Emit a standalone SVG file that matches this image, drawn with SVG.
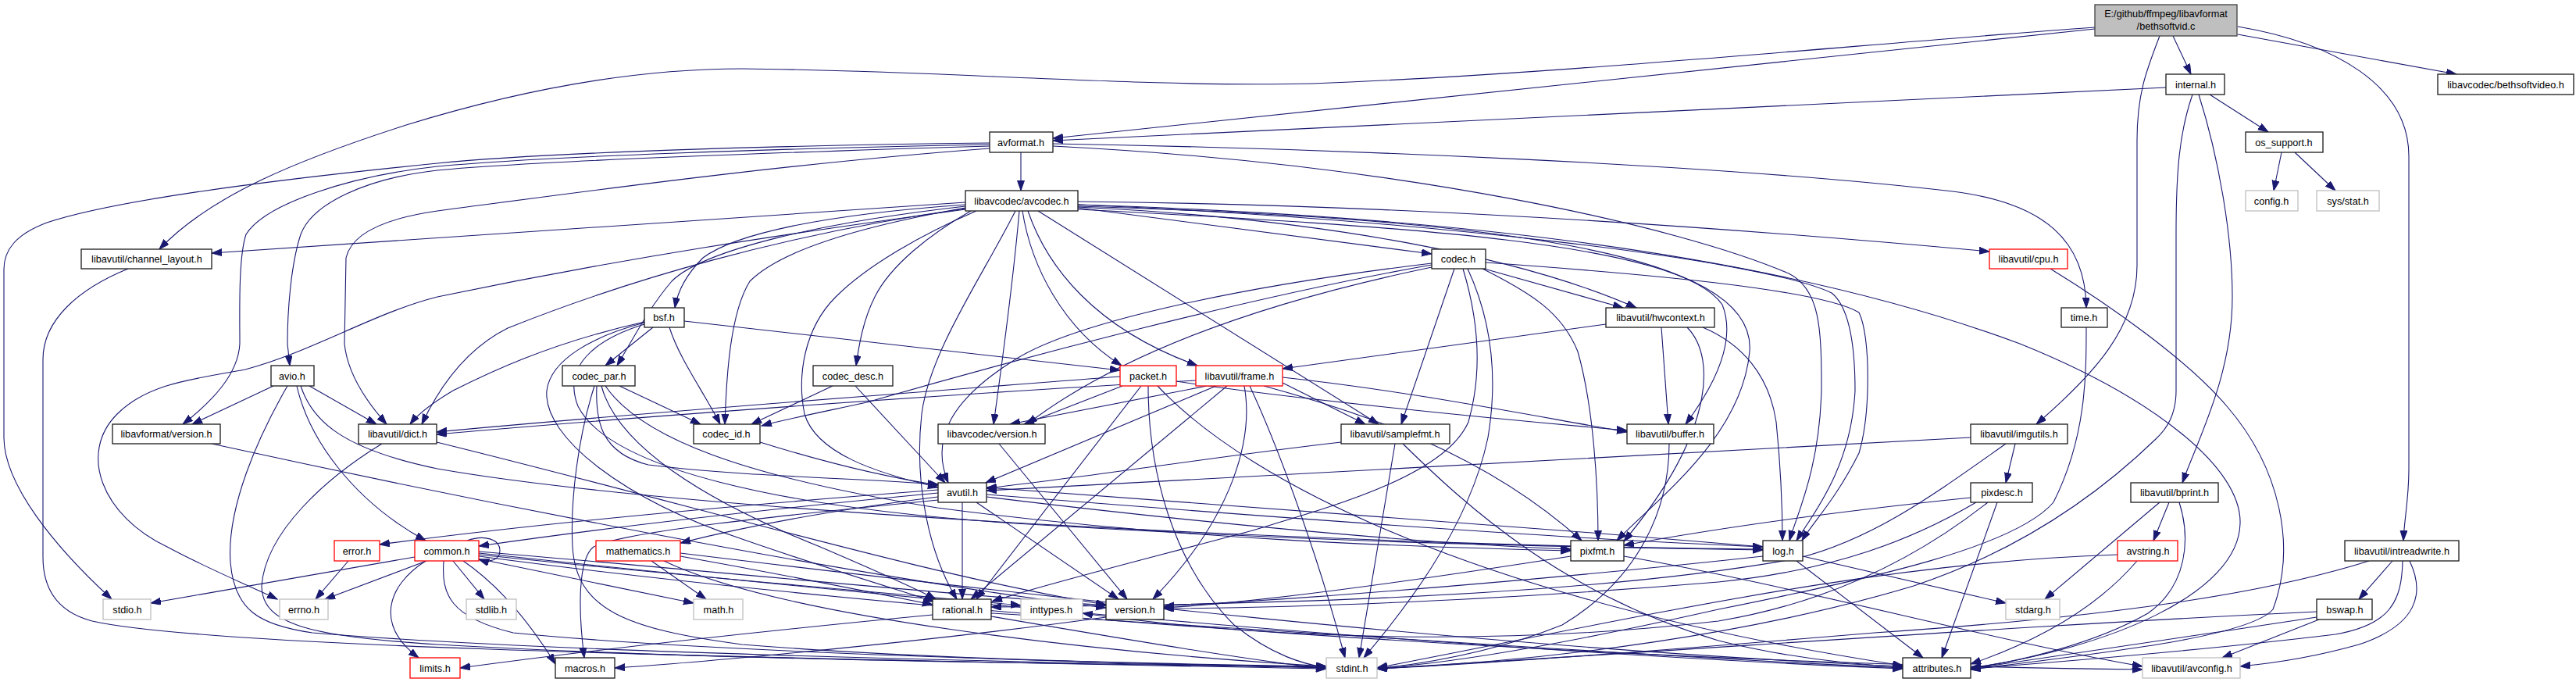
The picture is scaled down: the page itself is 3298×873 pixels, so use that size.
<svg xmlns="http://www.w3.org/2000/svg" width="3298" height="873" viewBox="0 0 3298 873">
<defs>
<marker id="a" markerWidth="14" markerHeight="10" refX="13" refY="4.5" orient="auto" markerUnits="userSpaceOnUse"><path d="M0,0 L13,4.5 L0,9 z" fill="#191970" stroke="#191970" stroke-width="1"/></marker>
</defs>
<style>
.e path{fill:none;stroke:#191970;stroke-width:1.1;marker-end:url(#a)}
rect{fill:#fff;stroke:#1a1a1a;stroke-width:1.3}
.r rect{stroke:#ff0000}
.u rect{stroke:#bfbfbf}
.rt rect{fill:#bfbfbf;stroke:#404040}
text{font-family:"Liberation Sans",Arial,sans-serif;font-size:12.7px;text-anchor:middle;fill:#000}
</style>
<rect x="0" y="0" width="3298" height="873" style="fill:#fff;stroke:none"/>
<g class="e" id="edges">
<path d="M2782,46 L2805,95"/>
<path d="M2865,44 L3145,95"/>
<path d="M2865,34 C2990,55 3084,110 3084,200 L3084,600 C3084,640 3078,665 3077,692"/>
<path d="M2765,46 C2748,90 2736,120 2736,180 L2736,340 C2736,420 2680,480 2607,543"/>
<path d="M2682,35 C2400,55 2000,95 1680,107 C1450,112 1200,90 950,88 C800,88 650,120 520,160 C380,205 270,250 204,319"/>
<path d="M2682,37 L1348,177"/>
<path d="M2773,112 L1348,180"/>
<path d="M2829,121 L2904,169"/>
<path d="M2815,121 C2840,200 2858,300 2858,380 C2858,480 2815,560 2794,618"/>
<path d="M2807,121 C2790,170 2786,220 2786,300 L2786,500 C2786,530 2775,548 2760,562 C2700,620 2600,700 2450,750 C2250,810 2000,845 1763,856"/>
<path d="M2921,195 L2911,244"/>
<path d="M2938,195 L2990,244"/>
<path d="M1307,195 L1307,244"/>
<path d="M1267,183 C1000,186 700,195 560,209 C350,230 150,255 60,285 C20,300 5,320 5,345 L5,560 C5,620 70,700 143,767"/>
<path d="M1267,185 C1000,190 700,200 560,213 C450,225 340,260 315,300 C305,330 307,400 307,440 C305,480 270,515 234,543"/>
<path d="M1267,187 C1000,195 700,205 560,218 C470,228 400,260 385,300 C372,340 368,400 368,440 L371,468"/>
<path d="M1267,190 C1000,210 750,245 560,270 C490,280 450,300 443,330 L441,440 C445,480 470,515 495,543"/>
<path d="M1348,184 C1700,190 2200,210 2500,245 C2620,260 2670,310 2671,394"/>
<path d="M1348,187 C1800,210 2150,290 2290,350 C2330,370 2332,420 2332,497 C2330,600 2300,660 2291,692"/>
<path d="M1380,262 C1800,280 2250,330 2345,375 C2370,395 2375,450 2375,500 C2370,600 2320,660 2300,692"/>
<path d="M1902,336 C2100,350 2330,370 2380,400 C2395,430 2395,530 2380,580 C2350,640 2320,670 2307,692"/>
<path d="M2180,419 C2230,440 2265,480 2274,540 C2280,600 2282,650 2282,692"/>
<path d="M1236,268 C1000,300 800,330 560,380 C480,400 400,450 314,473 C250,485 190,490 150,530 C100,580 130,660 214,700 C270,730 320,750 355,767"/>
<path d="M1329,270 L1765,543"/>
<path d="M1380,262 C1800,275 2250,315 2586,440 C2760,510 2870,600 2868,670 C2866,760 2700,830 2523,855"/>
<path d="M1250,270 C1180,300 1110,340 1070,380 C1030,420 1020,480 1030,530 C1045,580 1120,605 1201,624"/>
<path d="M1243,270 C1190,300 1140,340 1120,380 C1105,410 1100,440 1096,468"/>
<path d="M1236,259 L271,324"/>
<path d="M1236,262 C1050,275 940,300 900,330 C880,350 868,370 864,394"/>
<path d="M1236,264 C1050,285 900,320 860,360 C830,395 810,435 790,468"/>
<path d="M1236,266 C1100,290 1000,320 960,360 C935,400 930,480 928,543"/>
<path d="M1236,267 C1000,300 800,360 650,420 C600,445 565,490 540,543"/>
<path d="M1380,258 C1800,262 2200,290 2547,322"/>
<path d="M1316,270 C1340,340 1400,420 1533,468"/>
<path d="M1309,270 C1320,340 1360,420 1436,468"/>
<path d="M1305,270 C1298,350 1285,450 1272,543"/>
<path d="M1300,270 C1260,350 1190,450 1180,530 C1170,620 1190,710 1225,767"/>
<path d="M1380,265 C1700,280 1950,330 2095,394"/>
<path d="M1380,266 L1833,325"/>
<path d="M1380,268 C1800,290 2150,310 2205,390 C2225,440 2190,500 2158,543"/>
<path d="M1380,264 C1900,280 2250,320 2240,450 C2230,560 2120,640 2070,692"/>
<path d="M164,344 C100,370 55,410 55,460 L55,713 C55,760 80,785 118,795 C250,825 800,840 1698,856"/>
<path d="M876,411 L1434,474"/>
<path d="M836,419 L775,468"/>
<path d="M857,419 C870,460 900,500 922,543"/>
<path d="M825,412 C700,440 620,480 580,500 C555,515 535,530 525,543"/>
<path d="M825,413 C760,430 705,460 700,500 C695,560 800,640 950,690 C1050,725 1150,755 1196,770"/>
<path d="M825,415 C760,435 720,470 740,520 C780,600 1000,650 1300,670 C1700,695 2000,700 2257,704"/>
<path d="M1900,344 L2078,394"/>
<path d="M1862,344 L1794,543"/>
<path d="M1879,344 C1905,400 1920,470 1905,560 C1880,680 1790,790 1746,842"/>
<path d="M1873,344 C1890,400 1900,470 1880,540 C1850,610 1700,650 1600,680 C1450,720 1330,750 1270,770"/>
<path d="M1898,344 C1960,375 2000,400 2020,450 C2040,520 2046,620 2046,692"/>
<path d="M1833,337 C1600,365 1380,410 1300,460 C1220,510 1190,560 1214,618"/>
<path d="M1833,339 C1600,380 1300,460 1110,515 C1040,530 1000,538 975,545"/>
<path d="M1833,342 C1650,380 1450,440 1315,543"/>
<path d="M2625,344 C2700,390 2800,460 2851,520 C2920,600 2940,700 2910,780 C2880,815 2700,835 2523,857"/>
<path d="M2056,415 L1642,472"/>
<path d="M2127,419 L2136,543"/>
<path d="M2160,419 C2200,460 2190,560 2079,693"/>
<path d="M2671,419 C2671,480 2671,560 2629,643 C2580,700 2400,740 2200,780 C2000,825 1850,850 1763,855"/>
<path d="M350,494 L246,543"/>
<path d="M396,494 L482,543"/>
<path d="M380,494 C395,560 450,640 545,692"/>
<path d="M368,494 C330,560 290,650 295,720 C300,780 330,800 400,810 C700,835 1300,848 1698,854"/>
<path d="M385,494 C400,540 440,575 560,600 C900,660 1800,700 2257,703"/>
<path d="M793,494 L897,543"/>
<path d="M761,494 C740,560 730,640 733,700 C738,780 800,805 950,825 C1200,845 1500,850 1698,853"/>
<path d="M764,494 C762,540 770,580 830,595 C950,610 1100,612 1201,620"/>
<path d="M770,494 C790,570 900,640 1050,700 C1120,730 1170,752 1198,767"/>
<path d="M775,494 C820,560 950,610 1200,650 C1500,690 1800,700 2011,705"/>
<path d="M1066,494 L962,543"/>
<path d="M1095,494 L1210,618"/>
<path d="M1437,494 L1311,543"/>
<path d="M1434,482 C1200,500 800,530 559,553"/>
<path d="M1506,488 C1650,510 1900,535 2083,551"/>
<path d="M1461,494 L1250,767"/>
<path d="M1470,494 C1470,600 1500,720 1580,800 C1630,840 1670,850 1698,855"/>
<path d="M1482,494 C1600,620 1900,770 2436,852"/>
<path d="M1557,494 L1262,618"/>
<path d="M1545,494 L1293,543"/>
<path d="M1531,487 C1200,505 800,535 559,556"/>
<path d="M1642,483 C1800,500 1950,530 2083,553"/>
<path d="M1642,490 L1748,543"/>
<path d="M1571,494 L1243,767"/>
<path d="M1593,494 C1605,560 1580,660 1476,767"/>
<path d="M1618,494 C1750,530 1900,580 2025,692"/>
<path d="M1600,494 C1640,580 1690,720 1722,842"/>
<path d="M271,568 C600,640 1100,740 1416,778"/>
<path d="M489,568 C420,610 340,680 335,750 C335,800 400,815 560,825 C900,845 1400,850 1698,854"/>
<path d="M559,566 C900,650 1200,740 1416,774"/>
<path d="M973,566 C1050,590 1130,610 1201,621"/>
<path d="M1279,568 L1443,767"/>
<path d="M1717,566 C1550,585 1400,610 1263,625"/>
<path d="M1786,568 L1740,842"/>
<path d="M1796,568 C1880,650 2000,760 2200,820 C2300,845 2400,852 2436,854"/>
<path d="M2137,568 C2137,650 2100,740 2000,800 C1900,840 1800,852 1763,856"/>
<path d="M2580,568 L2568,618"/>
<path d="M2523,560 C2200,578 1650,607 1263,628"/>
<path d="M2568,568 C2480,630 2400,690 2300,715 C2000,770 1500,775 1269,777"/>
<path d="M1232,643 L1232,767"/>
<path d="M1250,643 L1432,767"/>
<path d="M1201,627 C900,650 650,675 486,697"/>
<path d="M1201,631 C1000,650 800,672 613,699"/>
<path d="M1201,636 C1050,655 950,675 871,695"/>
<path d="M1201,640 C1000,660 800,680 760,700 C740,715 740,780 748,842"/>
<path d="M1263,633 C1600,660 2000,690 2257,700"/>
<path d="M1263,636 C1500,665 1800,695 2011,703"/>
<path d="M2523,637 C2300,660 2150,685 2079,698"/>
<path d="M2557,643 L2486,842"/>
<path d="M2530,643 C2450,690 2350,730 2200,745 C1900,770 1650,778 1490,779"/>
<path d="M2545,643 C2460,710 2350,770 2200,795 C1900,830 1600,815 1386,785"/>
<path d="M2777,643 L2757,692"/>
<path d="M2765,643 L2618,767"/>
<path d="M2790,643 C2805,690 2800,750 2750,785 C2680,825 2580,848 2523,855"/>
<path d="M446,718 L404,767"/>
<path d="M546,718 L416,767"/>
<path d="M531,713 L193,772"/>
<path d="M545,718 C495,750 480,800 536,842"/>
<path d="M580,718 L620,767"/>
<path d="M611,715 L888,772"/>
<path d="M593,718 C640,750 680,800 711,850"/>
<path d="M568,718 C565,760 575,790 657,810 C900,835 1400,848 1698,855"/>
<path d="M613,708 C1100,760 1800,830 2436,856"/>
<path d="M613,706 C900,730 1200,760 1416,775"/>
<path d="M613,710 C900,740 1150,760 1307,775"/>
<path d="M613,712 C1200,790 2100,850 2743,857"/>
<path d="M598,692 C620,684 640,690 640,705 C640,716 628,721 613,716"/>
<path d="M834,718 L904,767"/>
<path d="M871,712 C1000,735 1100,755 1194,774"/>
<path d="M850,718 C1000,790 1400,835 1698,853"/>
<path d="M871,708 C1300,760 1900,830 2436,853"/>
<path d="M2011,712 C1800,745 1600,772 1490,778"/>
<path d="M2079,712 C2300,750 2550,820 2743,853"/>
<path d="M2308,712 L2568,772"/>
<path d="M2300,718 L2462,842"/>
<path d="M2257,700 C1900,670 1500,640 1263,624"/>
<path d="M2257,712 C2000,740 1700,765 1490,776"/>
<path d="M2736,718 C2700,760 2640,810 2523,850"/>
<path d="M2711,710 C2400,720 2100,790 1763,855"/>
<path d="M3063,718 L3020,767"/>
<path d="M3085,718 C3105,760 3095,800 3020,825 C2960,842 2900,850 2868,853"/>
<path d="M3076,718 C3075,770 3060,800 2990,812 C2800,835 2600,850 2523,856"/>
<path d="M3033,718 C2900,760 2700,790 2400,810 C2100,835 1900,850 1763,856"/>
<path d="M2969,793 L2845,842"/>
<path d="M2966,790 C2800,815 2600,845 2523,856"/>
<path d="M2966,783 C2600,800 2200,830 1763,856"/>
<path d="M1194,787 C900,815 700,840 589,855"/>
<path d="M1269,789 C1450,820 1600,845 1698,856"/>
<path d="M1269,785 C1700,810 2100,840 2436,855"/>
<path d="M1416,790 C1200,820 900,848 787,855"/>
</g>
<g id="root" class="rt"><rect x="2682" y="6" width="182" height="40"/><text x="2773" y="22">E:/github/ffmpeg/libavformat</text><text x="2773" y="38">/bethsoftvid.c</text></g>
<g id="internal"><rect x="2773" y="95" width="75" height="26"/><text x="2811" y="112.5">internal.h</text></g>
<g id="bethsoftvideo"><rect x="3121" y="95" width="174" height="26"/><text x="3208" y="112.5">libavcodec/bethsoftvideo.h</text></g>
<g id="avformat"><rect x="1267" y="169" width="81" height="26"/><text x="1307" y="186.5">avformat.h</text></g>
<g id="os_support"><rect x="2875" y="169" width="99" height="26"/><text x="2924" y="186.5">os_support.h</text></g>
<g id="avcodec"><rect x="1236" y="244" width="144" height="26"/><text x="1308" y="261.5">libavcodec/avcodec.h</text></g>
<g id="config" class="u"><rect x="2875" y="244" width="67" height="26"/><text x="2908" y="261.5">config.h</text></g>
<g id="sysstat" class="u"><rect x="2966" y="244" width="80" height="26"/><text x="3006" y="261.5">sys/stat.h</text></g>
<g id="channel_layout"><rect x="104" y="319" width="167" height="25"/><text x="188" y="336">libavutil/channel_layout.h</text></g>
<g id="codec"><rect x="1833" y="319" width="69" height="25"/><text x="1867" y="336">codec.h</text></g>
<g id="cpu" class="r"><rect x="2547" y="319" width="100" height="25"/><text x="2597" y="336">libavutil/cpu.h</text></g>
<g id="bsf"><rect x="825" y="394" width="51" height="25"/><text x="850" y="411">bsf.h</text></g>
<g id="hwcontext"><rect x="2056" y="394" width="139" height="25"/><text x="2126" y="411">libavutil/hwcontext.h</text></g>
<g id="time"><rect x="2639" y="394" width="59" height="25"/><text x="2668" y="411">time.h</text></g>
<g id="avio"><rect x="347" y="468" width="55" height="26"/><text x="374" y="485.5">avio.h</text></g>
<g id="codec_par"><rect x="720" y="468" width="93" height="26"/><text x="767" y="485.5">codec_par.h</text></g>
<g id="codec_desc"><rect x="1041" y="468" width="102" height="26"/><text x="1092" y="485.5">codec_desc.h</text></g>
<g id="packet" class="r"><rect x="1434" y="468" width="72" height="26"/><text x="1470" y="485.5">packet.h</text></g>
<g id="frame" class="r"><rect x="1531" y="468" width="111" height="26"/><text x="1587" y="485.5">libavutil/frame.h</text></g>
<g id="fversion"><rect x="144" y="543" width="138" height="25"/><text x="213" y="560">libavformat/version.h</text></g>
<g id="dict"><rect x="459" y="543" width="100" height="25"/><text x="509" y="560">libavutil/dict.h</text></g>
<g id="codec_id"><rect x="888" y="543" width="85" height="25"/><text x="930" y="560">codec_id.h</text></g>
<g id="cversion"><rect x="1201" y="543" width="137" height="25"/><text x="1270" y="560">libavcodec/version.h</text></g>
<g id="samplefmt"><rect x="1717" y="543" width="139" height="25"/><text x="1786" y="560">libavutil/samplefmt.h</text></g>
<g id="buffer"><rect x="2083" y="543" width="111" height="25"/><text x="2138" y="560">libavutil/buffer.h</text></g>
<g id="imgutils"><rect x="2523" y="543" width="124" height="25"/><text x="2585" y="560">libavutil/imgutils.h</text></g>
<g id="avutil"><rect x="1201" y="618" width="62" height="25"/><text x="1232" y="635">avutil.h</text></g>
<g id="pixdesc"><rect x="2523" y="618" width="79" height="25"/><text x="2563" y="635">pixdesc.h</text></g>
<g id="bprint"><rect x="2728" y="618" width="112" height="25"/><text x="2784" y="635">libavutil/bprint.h</text></g>
<g id="error" class="r"><rect x="428" y="692" width="58" height="26"/><text x="457" y="709.5">error.h</text></g>
<g id="common" class="r"><rect x="531" y="692" width="82" height="26"/><text x="572" y="709.5">common.h</text></g>
<g id="mathematics" class="r"><rect x="763" y="692" width="108" height="26"/><text x="817" y="709.5">mathematics.h</text></g>
<g id="pixfmt"><rect x="2011" y="692" width="68" height="26"/><text x="2045" y="709.5">pixfmt.h</text></g>
<g id="log"><rect x="2257" y="692" width="51" height="26"/><text x="2283" y="709.5">log.h</text></g>
<g id="avstring" class="r"><rect x="2711" y="692" width="77" height="26"/><text x="2750" y="709.5">avstring.h</text></g>
<g id="intreadwrite"><rect x="3002" y="692" width="146" height="26"/><text x="3075" y="709.5">libavutil/intreadwrite.h</text></g>
<g id="stdio" class="u"><rect x="132" y="767" width="61" height="26"/><text x="163" y="784.5">stdio.h</text></g>
<g id="errno" class="u"><rect x="358" y="767" width="62" height="26"/><text x="389" y="784.5">errno.h</text></g>
<g id="stdlib" class="u"><rect x="597" y="767" width="64" height="26"/><text x="629" y="784.5">stdlib.h</text></g>
<g id="math" class="u"><rect x="888" y="767" width="63" height="26"/><text x="920" y="784.5">math.h</text></g>
<g id="rational"><rect x="1194" y="767" width="75" height="26"/><text x="1232" y="784.5">rational.h</text></g>
<g id="inttypes" class="u"><rect x="1307" y="767" width="79" height="26"/><text x="1346" y="784.5">inttypes.h</text></g>
<g id="version"><rect x="1416" y="767" width="74" height="26"/><text x="1453" y="784.5">version.h</text></g>
<g id="stdarg" class="u"><rect x="2568" y="767" width="69" height="26"/><text x="2603" y="784.5">stdarg.h</text></g>
<g id="bswap"><rect x="2966" y="767" width="71" height="26"/><text x="3002" y="784.5">bswap.h</text></g>
<g id="limits" class="r"><rect x="525" y="842" width="64" height="26"/><text x="557" y="859.5">limits.h</text></g>
<g id="macros"><rect x="711" y="842" width="76" height="26"/><text x="749" y="859.5">macros.h</text></g>
<g id="stdint" class="u"><rect x="1698" y="842" width="65" height="26"/><text x="1731" y="859.5">stdint.h</text></g>
<g id="attributes"><rect x="2436" y="842" width="87" height="26"/><text x="2480" y="859.5">attributes.h</text></g>
<g id="avconfig" class="u"><rect x="2743" y="842" width="125" height="26"/><text x="2806" y="859.5">libavutil/avconfig.h</text></g>
</svg>
